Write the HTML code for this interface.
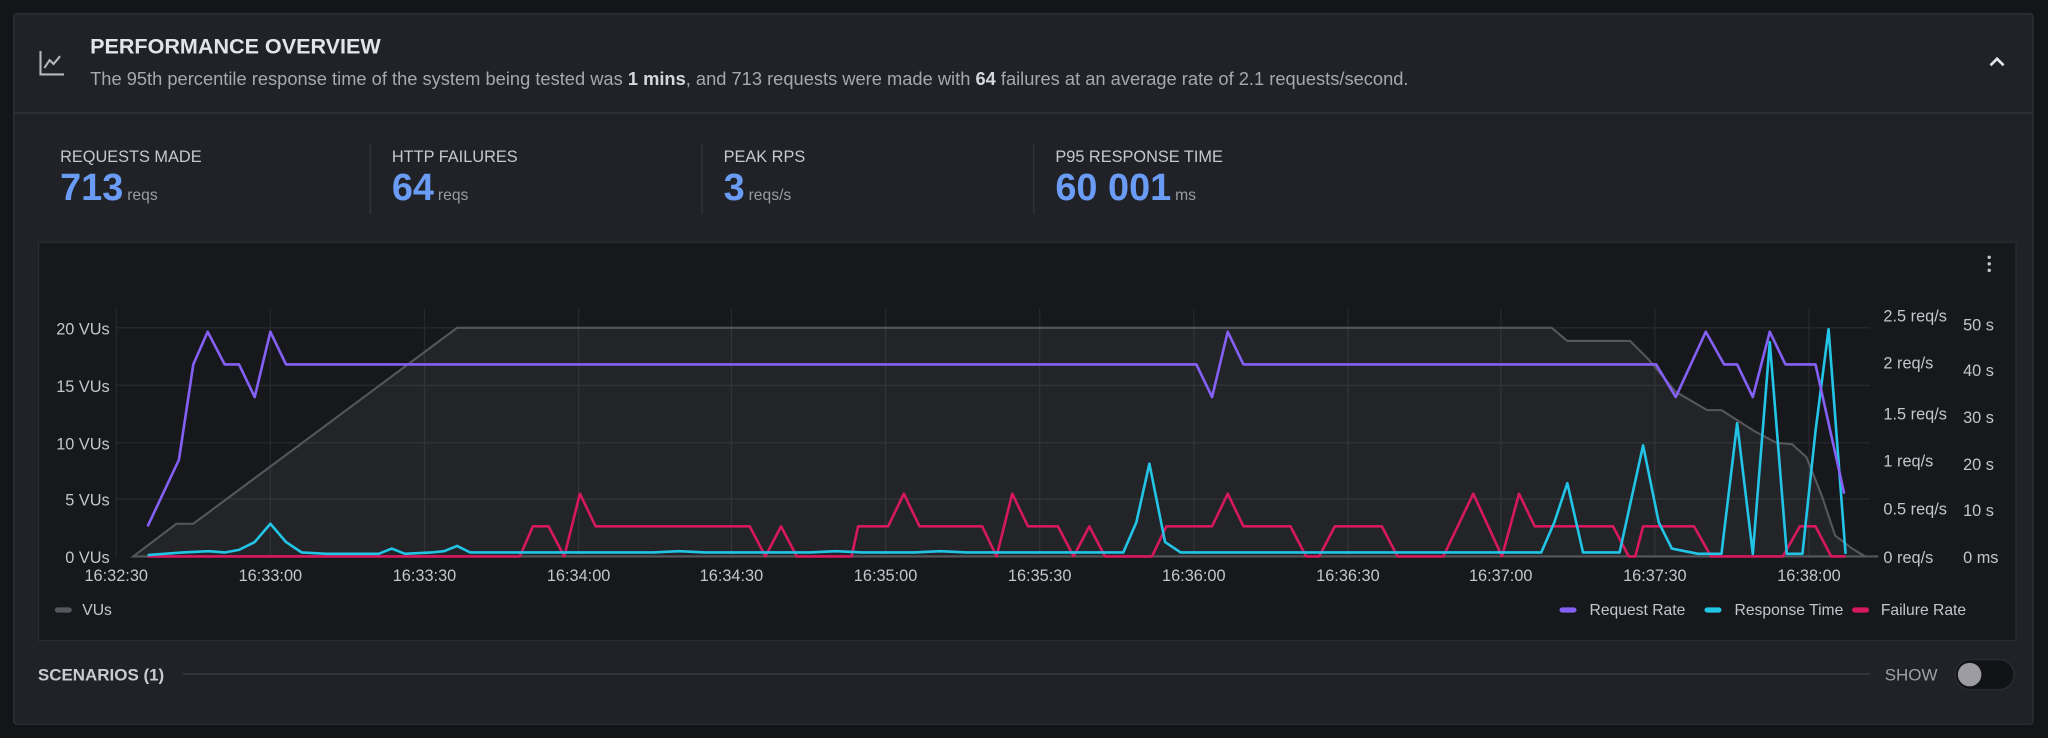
<!DOCTYPE html>
<html><head><meta charset="utf-8"><style>
html,body{margin:0;padding:0;background:#141519;width:2048px;height:737px;overflow:hidden;font-family:"Liberation Sans",sans-serif}
#w{position:absolute;left:0;top:0;width:1568px;height:565px;transform:scale(1.30612);transform-origin:0 0}
.abs{position:absolute}
#panel{left:10px;top:10px;width:1547px;height:545px;background:#202228;border:1px solid #2e3037;border-radius:3px;box-sizing:border-box}
.t{color:#c9cbd1}
.lbl{font-size:12.5px;color:#c7c9cf;top:113px}
.val{top:128px;font-size:29px;font-weight:bold;color:#6b9cf5}
.val span{font-size:12px;font-weight:normal;color:#9a9ca3;margin-left:3px}
.div{top:110px;width:1px;height:54px;background:#33353c}
</style></head><body><div id="w">
<div id="panel" class="abs"></div>
<svg class="abs" style="left:29px;top:37px" width="22" height="22" viewBox="0 0 22 22"><path d="M2 2V20H20" stroke="#b8bac0" stroke-width="1.6" fill="none"/><path d="M5 15L9 9L12 12L17 6" stroke="#b8bac0" stroke-width="1.6" fill="none"/></svg>
<div class="abs t" style="left:69px;top:27px;font-size:16.5px;font-weight:bold;color:#e2e4e9">PERFORMANCE OVERVIEW</div>
<div class="abs" style="left:69px;top:52px;font-size:14px;color:#a6a8ae">The 95th percentile response time of the system being tested was <b style="color:#d5d7dc">1 mins</b>, and 713 requests were made with <b style="color:#d5d7dc">64</b> failures at an average rate of 2.1 requests/second.</div>
<svg class="abs" style="left:1521px;top:41px" width="16" height="12"><path d="M3 9L8 4L13 9" stroke="#e6e7ea" stroke-width="2" fill="none"/></svg>
<div class="abs" style="left:11px;top:86px;width:1545px;height:1px;background:#34363d"></div>
<div class="abs lbl" style="left:46px">REQUESTS MADE</div><div class="abs val" style="left:46px">713<span>reqs</span></div>
<div class="abs div" style="left:283px"></div>
<div class="abs lbl" style="left:300px">HTTP FAILURES</div><div class="abs val" style="left:300px">64<span>reqs</span></div>
<div class="abs div" style="left:537px"></div>
<div class="abs lbl" style="left:554px">PEAK RPS</div><div class="abs val" style="left:554px">3<span>reqs/s</span></div>
<div class="abs div" style="left:791px"></div>
<div class="abs lbl" style="left:808px">P95 RESPONSE TIME</div><div class="abs val" style="left:808px">60 001<span>ms</span></div>
<div class="abs" style="left:29px;top:185px;width:1515px;height:306px;background:#17181c;border:1px solid #2a2c32;box-sizing:border-box"></div>
<svg class="abs" style="left:0;top:0" width="1568" height="565" font-family="Liberation Sans, sans-serif">
<g fill="#c4c6cc"><circle cx="1523" cy="197" r="1.3"/><circle cx="1523" cy="202" r="1.3"/><circle cx="1523" cy="207" r="1.3"/></g>
<g stroke="#26282e" stroke-width="1">
<line x1="89" y1="251" x2="1432" y2="251"/><line x1="89" y1="295" x2="1432" y2="295"/><line x1="89" y1="339" x2="1432" y2="339"/><line x1="89" y1="382" x2="1432" y2="382"/>
<line x1="89" y1="236" x2="89" y2="426"/><line x1="207" y1="236" x2="207" y2="426"/><line x1="325" y1="236" x2="325" y2="426"/><line x1="443" y1="236" x2="443" y2="426"/><line x1="560" y1="236" x2="560" y2="426"/><line x1="678" y1="236" x2="678" y2="426"/><line x1="796" y1="236" x2="796" y2="426"/><line x1="914" y1="236" x2="914" y2="426"/><line x1="1032" y1="236" x2="1032" y2="426"/><line x1="1149" y1="236" x2="1149" y2="426"/><line x1="1267" y1="236" x2="1267" y2="426"/><line x1="1385" y1="236" x2="1385" y2="426"/>
</g>
<g font-size="12.5" fill="#c4c6cc" text-anchor="end">
<text x="84" y="256">20 VUs</text><text x="84" y="300">15 VUs</text><text x="84" y="344">10 VUs</text><text x="84" y="387">5 VUs</text><text x="84" y="431">0 VUs</text>
</g>
<g font-size="12.5" fill="#c4c6cc">
<text x="1442" y="246">2.5 req/s</text><text x="1442" y="282">2 req/s</text><text x="1442" y="321">1.5 req/s</text><text x="1442" y="357">1 req/s</text><text x="1442" y="394">0.5 req/s</text><text x="1442" y="431">0 req/s</text>
<text x="1503" y="253">50 s</text><text x="1503" y="288">40 s</text><text x="1503" y="324">30 s</text><text x="1503" y="360">20 s</text><text x="1503" y="395">10 s</text><text x="1503" y="431">0 ms</text>
</g>
<g font-size="12.5" fill="#c4c6cc" text-anchor="middle">
<text x="89" y="445">16:32:30</text><text x="207" y="445">16:33:00</text><text x="325" y="445">16:33:30</text><text x="443" y="445">16:34:00</text><text x="560" y="445">16:34:30</text><text x="678" y="445">16:35:00</text><text x="796" y="445">16:35:30</text><text x="914" y="445">16:36:00</text><text x="1032" y="445">16:36:30</text><text x="1149" y="445">16:37:00</text><text x="1267" y="445">16:37:30</text><text x="1385" y="445">16:38:00</text>
</g>
<path d="M102 426L135 401L148 401L350 251L1188 251L1200 261L1248 261L1262 275L1283 300L1307 314L1318 314L1343 330L1360 339L1372 340L1383 350L1395 380L1405 410L1418 420L1428 426L1438 426Z" fill="rgba(255,255,255,0.055)" stroke="#55575c" stroke-width="1.6"/>
<polyline fill="none" stroke="#d6185e" stroke-width="2" stroke-linejoin="round" points="113,426 398,426 408,403 420,403 432,426 444,378 456,403 574,403 586,426 598,403 610,426 652,426 657,403 680,403 692,378 704,403 752,403 763,426 775,378 787,403 810,403 822,426 834,403 846,426 882,426 893,403 928,403 940,378 952,403 988,403 1000,426 1010,426 1022,403 1058,403 1070,426 1105,426 1128,378 1150,426 1163,378 1175,403 1235,403 1247,426 1252,426 1258,403 1297,403 1310,426 1365,426 1378,403 1390,403 1402,426 1413,426"/>
<polyline fill="none" stroke="#22c5e6" stroke-width="2" stroke-linejoin="round" points="113,425 140,423 160,422 172,423 183,421 195,415 207,401 219,415 231,423 250,424 290,424 300,420 310,424 330,423 340,422 350,418 360,423 500,423 520,422 540,423 620,423 640,422 660,423 700,423 720,422 740,423 860,423 870,400 880,355 892,415 904,423 1180,423 1190,400 1200,370 1212,423 1240,423 1258,341 1270,400 1280,420 1290,422 1300,424 1318,424 1330,324 1342,424 1355,262 1368,424 1380,424 1390,330 1400,252 1413,424"/>
<polyline fill="none" stroke="#8460f5" stroke-width="2" stroke-linejoin="round" points="113,403 137,352 148,279 159,254 172,279 183,279 195,304 207,254 219,279 916,279 928,304 940,254 952,279 1268,279 1283,304 1306,254 1320,279 1330,279 1342,304 1355,254 1367,279 1390,279 1412,378"/>
<g font-size="12" fill="#c4c6cc">
<rect x="42" y="465" width="13" height="4" rx="2" fill="#55575c"/><text x="63" y="471">VUs</text>
<rect x="1194" y="465" width="13" height="4" rx="2" fill="#8460f5"/><text x="1217" y="471">Request Rate</text>
<rect x="1305" y="465" width="13" height="4" rx="2" fill="#22c5e6"/><text x="1328" y="471">Response Time</text>
<rect x="1418" y="465" width="13" height="4" rx="2" fill="#d6185e"/><text x="1440" y="471">Failure Rate</text>
</g>
<text x="29" y="521" font-size="13" font-weight="bold" fill="#c9cbd1">SCENARIOS (1)</text>
<line x1="140" y1="516" x2="1432" y2="516" stroke="#3a3c43" stroke-width="1"/>
<text x="1443" y="521" font-size="13" fill="#9fa1a7">SHOW</text>
<rect x="1497" y="505" width="45" height="23" rx="11.5" fill="#121316" stroke="#2a2c32"/>
<circle cx="1508" cy="516.5" r="9" fill="#9c9ca2"/>
</svg>
</div></body></html>
